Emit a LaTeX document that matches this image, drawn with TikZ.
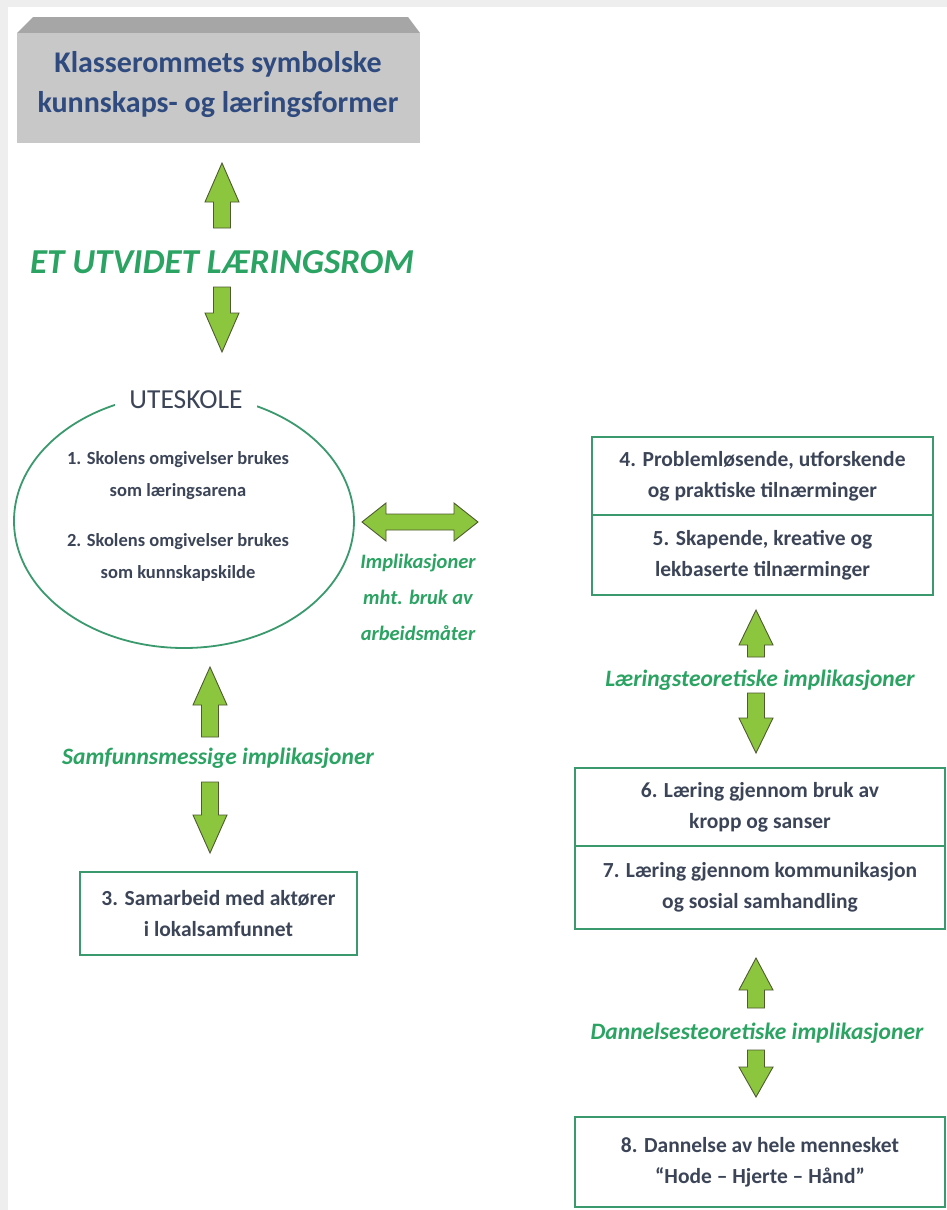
\documentclass[tikz,border=0pt]{standalone}
\usepackage{fontspec}
\setmainfont{Carlito}
\usetikzlibrary{shapes.geometric}
\definecolor{bggray}{HTML}{EEEEEE}
\definecolor{arrfill}{HTML}{8CC63F}
\definecolor{arrline}{HTML}{4E5A30}
\definecolor{lblgreen}{HTML}{2BA362}
\definecolor{boxgreen}{HTML}{3A9A6E}
\definecolor{darktext}{HTML}{3C4558}
\definecolor{toptext}{HTML}{2E4A7E}
\definecolor{topface}{HTML}{C8C8C8}
\definecolor{topbevel}{HTML}{A6A6A6}
\newcommand{\UpArr}[4]{% x, ytip, ybase, headlen
  \draw[blockarrow] (#1,#2) -- ({#1+17},{#2+#4}) -- ({#1+8.5},{#2+#4}) -- ({#1+8.5},#3)
    -- ({#1-8.5},#3) -- ({#1-8.5},{#2+#4}) -- ({#1-17},{#2+#4}) -- cycle;}
\newcommand{\DownArr}[4]{% x, ytop, ytip, headlen
  \draw[blockarrow] (#1,#3) -- ({#1+17},{#3-#4}) -- ({#1+8.5},{#3-#4}) -- ({#1+8.5},#2)
    -- ({#1-8.5},#2) -- ({#1-8.5},{#3-#4}) -- ({#1-17},{#3-#4}) -- cycle;}
\tikzset{
  blockarrow/.style={fill=arrfill, draw=arrline, line width=0.9pt, line join=miter},
  itembox/.style={draw=boxgreen, line width=2pt, fill=white, rectangle, align=center,
    text=darktext, font=\bfseries\fontsize{21.5}{31}\selectfont, inner sep=0pt},
  itemtext/.style={align=center, text=darktext, font=\bfseries\fontsize{18.5}{32}\selectfont, inner sep=0pt},
  greenlabel/.style={text=lblgreen, font=\bfseries\itshape\fontsize{23.5}{36}\selectfont, align=center, inner sep=0pt},
}
\begin{document}
\begin{tikzpicture}[x=1pt,y=-1pt]
\useasboundingbox (0,0) rectangle (947,1210);
\fill[bggray] (0,0) rectangle (947,1210);
\fill[white] (8,7) rectangle (947,1210);

% top box
\fill[topbevel] (17,33) -- (33,17) -- (408,17) -- (420,33) -- cycle;
\node[fill=topface, minimum width=403pt, minimum height=110pt, inner sep=0pt] (top) at (218.5,88) {};
\node[align=center, text=toptext, font=\bfseries\fontsize{30}{40}\selectfont, inner sep=0pt] (toptxt) at (218,85)
  {Klasserommets symbolske\\kunnskaps- og læringsformer};

% top arrows and label
\UpArr{222}{163}{228}{39}
\node[text=lblgreen, font=\bfseries\itshape\fontsize{35}{38}\selectfont, inner sep=0pt] (rom) at (222,262) {ET UTVIDET LÆRINGSROM};
\DownArr{222}{287}{352}{39}

% ellipse
\node[ellipse, draw=boxgreen, line width=1.8pt, fill=white, minimum width=340pt, minimum height=254pt] (ute) at (184,521) {};
\node[fill=white, inner xsep=14pt, inner ysep=4pt, text=darktext, font=\fontsize{27.5}{30}\selectfont] (utetitle) at (186,400) {UTESKOLE};
\node[itemtext] (i1) at (178,476) {1. Skolens omgivelser brukes\\som læringsarena};
\node[itemtext] (i2) at (178,557) {2. Skolens omgivelser brukes\\som kunnskapskilde};

% horizontal double arrow
\draw[blockarrow] (362,522) -- (386,503) -- (386,514) -- (454,514) -- (454,503) -- (478,522)
  -- (454,541) -- (454,530) -- (386,530) -- (386,541) -- cycle;
\node[greenlabel, font=\bfseries\itshape\fontsize{20.5}{36}\selectfont] (impl) at (418,597) {Implikasjoner\\mht. bruk av\\arbeidsmåter};

% box 4/5
\node[itembox, minimum width=341pt, minimum height=78pt] (b4) at (762.5,476) {4. Problemløsende, utforskende\\og praktiske tilnærminger};
\node[itembox, minimum width=341pt, minimum height=80pt] (b5) at (762.5,555) {5. Skapende, kreative og\\lekbaserte tilnærminger};

\UpArr{756}{610}{657}{35}
\node[greenlabel] (lt) at (760,680) {Læringsteoretiske implikasjoner};
\DownArr{756}{693}{753}{35}

% box 6/7
\node[itembox, minimum width=370pt, minimum height=78pt] (b6) at (760,807) {6. Læring gjennom bruk av\\kropp og sanser};
\node[itembox, minimum width=370pt, minimum height=83pt] (b7) at (760,887.5) {7. Læring gjennom kommunikasjon\\og sosial samhandling};

\UpArr{756}{958}{1008}{32}
\node[greenlabel] (dt) at (757,1033) {Dannelsesteoretiske implikasjoner};
\DownArr{756}{1050}{1097}{30}

% box 8
\node[itembox, minimum width=370pt, minimum height=90pt] (b8) at (760,1162) {8. Dannelse av hele mennesket\\“Hode – Hjerte – Hånd”};

% left column
\UpArr{210}{667}{737}{38}
\node[greenlabel] (st) at (218,758) {Samfunnsmessige implikasjoner};
\DownArr{210}{782}{853}{38}
\node[itembox, minimum width=277pt, minimum height=83pt] (b3) at (218.5,913.5) {3. Samarbeid med aktører\\i lokalsamfunnet};
\end{tikzpicture}
\end{document}
